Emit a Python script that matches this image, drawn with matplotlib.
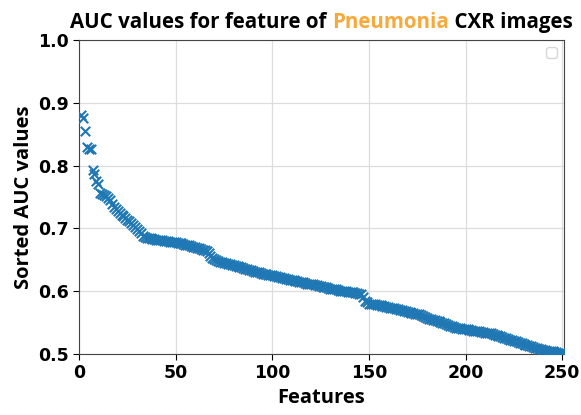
import matplotlib.pyplot as plt

# sorted AUC value of each feature
auc_values = [
    0.880, 0.876, 0.855, 0.830, 0.827, 0.826, 0.793, 0.786, 0.776, 0.770,
    0.757, 0.755, 0.753, 0.751, 0.748, 0.745, 0.738, 0.734, 0.730, 0.727,
    0.724, 0.722, 0.719, 0.717, 0.714, 0.711, 0.708, 0.705, 0.702, 0.699,
    0.696, 0.692, 0.688, 0.686, 0.685, 0.684, 0.684, 0.683, 0.683, 0.682,
    0.682, 0.681, 0.681, 0.680, 0.680, 0.680, 0.679, 0.679, 0.678, 0.678,
    0.677, 0.677, 0.676, 0.675, 0.674, 0.674, 0.673, 0.672, 0.671, 0.670,
    0.669, 0.668, 0.667, 0.666, 0.665, 0.664, 0.660, 0.656, 0.653, 0.651,
    0.649, 0.648, 0.647, 0.646, 0.645, 0.645, 0.644, 0.643, 0.642, 0.641,
    0.640, 0.640, 0.639, 0.638, 0.637, 0.636, 0.635, 0.634, 0.633, 0.632,
    0.631, 0.630, 0.630, 0.629, 0.628, 0.628, 0.627, 0.626, 0.626, 0.625,
    0.624, 0.624, 0.623, 0.622, 0.621, 0.621, 0.620, 0.619, 0.618, 0.618,
    0.617, 0.616, 0.616, 0.615, 0.614, 0.614, 0.613, 0.612, 0.612, 0.611,
    0.611, 0.610, 0.610, 0.609, 0.608, 0.607, 0.607, 0.606, 0.605, 0.604,
    0.604, 0.603, 0.603, 0.602, 0.601, 0.601, 0.600, 0.600, 0.599, 0.599,
    0.598, 0.598, 0.597, 0.597, 0.596, 0.595, 0.590, 0.585, 0.582, 0.580,
    0.580, 0.579, 0.579, 0.578, 0.578, 0.578, 0.577, 0.576, 0.575, 0.575,
    0.574, 0.573, 0.573, 0.572, 0.571, 0.570, 0.570, 0.569, 0.568, 0.567,
    0.567, 0.566, 0.565, 0.564, 0.564, 0.563, 0.562, 0.561, 0.559, 0.557,
    0.556, 0.555, 0.554, 0.554, 0.553, 0.552, 0.551, 0.550, 0.549, 0.548,
    0.546, 0.545, 0.544, 0.543, 0.542, 0.541, 0.541, 0.540, 0.540, 0.539,
    0.539, 0.538, 0.538, 0.537, 0.537, 0.536, 0.536, 0.535, 0.535, 0.534,
    0.534, 0.533, 0.533, 0.532, 0.531, 0.530, 0.529, 0.528, 0.527, 0.526,
    0.525, 0.524, 0.523, 0.522, 0.521, 0.520, 0.519, 0.518, 0.517, 0.516,
    0.515, 0.514, 0.513, 0.512, 0.511, 0.510, 0.509, 0.508, 0.508, 0.507,
    0.506, 0.505, 0.505, 0.504, 0.504, 0.503, 0.503, 0.502, 0.502, 0.501,
    0.501,
]
features = list(range(1, len(auc_values) + 1))

title_parts = ["AUC values for feature of ", "Pneumonia", " CXR images"]
title_colors = ["black", "#f7a93c", "black"]

label_font = "Open Sans"

fig = plt.figure(figsize=(5.81, 4.15), dpi=100)
ax = fig.add_axes([0.136, 0.147, 0.835, 0.757])

ax.scatter(features, auc_values, marker="x", s=46, color="#1f77b4", linewidths=1.5, zorder=3)

ax.set_xlim(0, 251)
ax.set_ylim(0.5, 1.0)
ax.set_xticks([0, 50, 100, 150, 200, 250])
ax.set_yticks([0.5, 0.6, 0.7, 0.8, 0.9, 1.0])
ax.grid(True, color="#dddddd", linewidth=0.9)
ax.set_axisbelow(True)
for spine in ax.spines.values():
    spine.set_color("#444444")
ax.tick_params(labelsize=12.5, colors="black", length=4)
for lbl in ax.get_xticklabels() + ax.get_yticklabels():
    lbl.set_fontweight("bold")

ax.set_xlabel("Features", fontsize=14.5, fontweight="bold", family=label_font, labelpad=4)
ax.set_ylabel("Sorted AUC values", fontsize=14.5, fontweight="bold", family=label_font, labelpad=3)

# empty legend box like in the original
ax.legend(handles=[], loc="upper right")

# title with the coloured word, pieces placed one after another
fig.canvas.draw()
renderer = fig.canvas.get_renderer()
texts = []
for part, col in zip(title_parts, title_colors):
    t = fig.text(0, 0.933, part, color=col, fontsize=14.8, fontweight="bold", family=label_font)
    texts.append(t)
widths = [t.get_window_extent(renderer).width for t in texts]
total = sum(widths)
fig_w = fig.get_figwidth() * fig.dpi
ax_box = ax.get_position()
start = (ax_box.x0 + ax_box.x1) / 2 * fig_w - total / 2
for t, w in zip(texts, widths):
    t.set_x(start / fig_w)
    start += w

fig.savefig("out.png", dpi=100)
